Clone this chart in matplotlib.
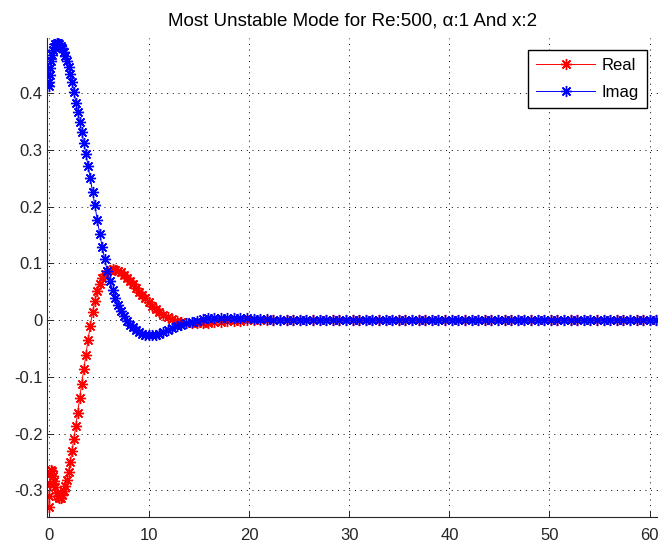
import matplotlib
matplotlib.use('Agg')
import matplotlib.pyplot as plt

plt.rcParams['font.family'] = ['Liberation Sans', 'DejaVu Sans']
plt.rcParams['lines.scale_dashes'] = False

# grid points, packed close to the wall
x = [0.00, 0.02, 0.06, 0.12, 0.20, 0.29, 0.39, 0.50, 0.62, 0.75,
     0.88, 1.02, 1.16, 1.31, 1.46, 1.62, 1.78, 1.95, 2.12, 2.30,
     2.48, 2.67, 2.86, 3.06, 3.26, 3.47, 3.68, 3.90, 4.12, 4.35,
     4.58, 4.82, 5.06, 5.31, 5.56, 5.82, 6.08, 6.35, 6.62, 6.90,
     7.18, 7.47, 7.76, 8.06, 8.36, 8.67, 8.98, 9.30, 9.62, 9.95,
     10.29, 10.65, 11.03, 11.43, 11.85, 12.29, 12.75, 13.23, 13.73, 14.25,
     14.79, 15.35, 15.93, 16.53, 17.15, 17.79, 18.45, 19.11, 19.77, 20.43,
     21.09, 21.75, 22.41, 23.07, 23.73, 24.39, 25.05, 25.71, 26.37, 27.03,
     27.69, 28.35, 29.01, 29.67, 30.33, 30.99, 31.65, 32.31, 32.97, 33.63,
     34.29, 34.95, 35.61, 36.27, 36.93, 37.59, 38.25, 38.91, 39.57, 40.23,
     40.89, 41.55, 42.21, 42.87, 43.53, 44.19, 44.85, 45.51, 46.17, 46.83,
     47.49, 48.15, 48.81, 49.47, 50.13, 50.79, 51.45, 52.11, 52.77, 53.43,
     54.09, 54.75, 55.41, 56.07, 56.73, 57.39, 58.05, 58.71, 59.37, 60.03,
     60.69]

real = [-0.330, -0.310, -0.288, -0.272, -0.264, -0.266, -0.274, -0.284, -0.295, -0.304,
        -0.310, -0.313, -0.313, -0.309, -0.302, -0.293, -0.282, -0.267, -0.250, -0.230,
        -0.209, -0.187, -0.163, -0.138, -0.113, -0.087, -0.061, -0.035, -0.010, 0.014,
        0.034, 0.051, 0.064, 0.074, 0.081, 0.086, 0.089, 0.090, 0.089, 0.087,
        0.084, 0.080, 0.075, 0.069, 0.063, 0.057, 0.050, 0.044, 0.038, 0.032,
        0.025, 0.019, 0.014, 0.009, 0.005, 0.001, -0.002, -0.004, -0.005, -0.006,
        -0.006, -0.006, -0.005, -0.004, -0.003, -0.002, -0.001, -0.001, 0.0, 0.0,
        0.0, 0.0, 0.0, 0.0, 0.0, 0.0, 0.0, 0.0, 0.0, 0.0,
        0.0, 0.0, 0.0, 0.0, 0.0, 0.0, 0.0, 0.0, 0.0, 0.0,
        0.0, 0.0, 0.0, 0.0, 0.0, 0.0, 0.0, 0.0, 0.0, 0.0,
        0.0, 0.0, 0.0, 0.0, 0.0, 0.0, 0.0, 0.0, 0.0, 0.0,
        0.0, 0.0, 0.0, 0.0, 0.0, 0.0, 0.0, 0.0, 0.0, 0.0,
        0.0, 0.0, 0.0, 0.0, 0.0, 0.0, 0.0, 0.0, 0.0, 0.0,
        0.0]

imag = [0.413, 0.420, 0.432, 0.445, 0.457, 0.467, 0.475, 0.482, 0.486, 0.488,
        0.488, 0.486, 0.483, 0.479, 0.473, 0.466, 0.457, 0.446, 0.434, 0.419,
        0.402, 0.383, 0.366, 0.349, 0.331, 0.312, 0.293, 0.272, 0.250, 0.226,
        0.202, 0.176, 0.152, 0.129, 0.107, 0.087, 0.069, 0.053, 0.039, 0.027,
        0.016, 0.007, -0.001, -0.008, -0.013, -0.018, -0.021, -0.024, -0.026, -0.027,
        -0.027, -0.026, -0.024, -0.021, -0.018, -0.014, -0.011, -0.008, -0.005, -0.003,
        -0.001, 0.001, 0.003, 0.004, 0.004, 0.004, 0.004, 0.003, 0.003, 0.002,
        0.001, 0.001, 0.0, 0.0, 0.0, 0.0, 0.0, 0.0, 0.0, 0.0,
        0.0, 0.0, 0.0, 0.0, 0.0, 0.0, 0.0, 0.0, 0.0, 0.0,
        0.0, 0.0, 0.0, 0.0, 0.0, 0.0, 0.0, 0.0, 0.0, 0.0,
        0.0, 0.0, 0.0, 0.0, 0.0, 0.0, 0.0, 0.0, 0.0, 0.0,
        0.0, 0.0, 0.0, 0.0, 0.0, 0.0, 0.0, 0.0, 0.0, 0.0,
        0.0, 0.0, 0.0, 0.0, 0.0, 0.0, 0.0, 0.0, 0.0, 0.0,
        0.0]

xticks = [0, 10, 20, 30, 40, 50, 60]
yticks = [-0.3, -0.2, -0.1, 0.0, 0.1, 0.2, 0.3, 0.4]
ytick_labels = ['-0.3', '-0.2', '-0.1', '0', '0.1', '0.2', '0.3', '0.4']
title_text = 'Most Unstable Mode for Re:500, \u03b1:1 And x:2'

W, H = 658, 543
fig = plt.figure(figsize=(W / 100, H / 100), dpi=100)
ax = fig.add_axes([47 / W, 26 / H, (W - 47) / W, 479 / H])

star = (8, 2, 0)
ax.plot(x, real, color='r', lw=0.7, marker=star, ms=8, mew=1.0, label='Real')
ax.plot(x, imag, color='b', lw=0.7, marker=star, ms=8, mew=1.0, label='Imag')

ax.set_xlim(-0.2, 60.84)
ax.set_ylim(-0.347, 0.497)
ax.set_xticks(xticks)
ax.set_yticks(yticks)
ax.set_yticklabels(ytick_labels)
ax.grid(True, color='k', lw=0.7, linestyle=(0, (0.7, 3.4)))

for side in ['top', 'right']:
    ax.spines[side].set_visible(False)
for side in ['left', 'bottom']:
    ax.spines[side].set_linewidth(0.8)
    ax.spines[side].set_color('#262626')
ax.tick_params(direction='in', length=4, width=0.7, labelsize=12, colors='#262626')
ax.tick_params(axis='x', pad=8)
ax.tick_params(axis='y', pad=3)

ax.set_title(title_text, fontsize=13.5, pad=9)

leg = ax.legend(loc='upper right', bbox_to_anchor=(0.982, 0.975), numpoints=1,
                fontsize=12, handlelength=3.5, handletextpad=0.4, labelspacing=0.7,
                borderpad=0.5, borderaxespad=0, fancybox=False, framealpha=1,
                edgecolor='k')
leg.get_frame().set_linewidth(1.0)

fig.savefig('out.png', dpi=100)
